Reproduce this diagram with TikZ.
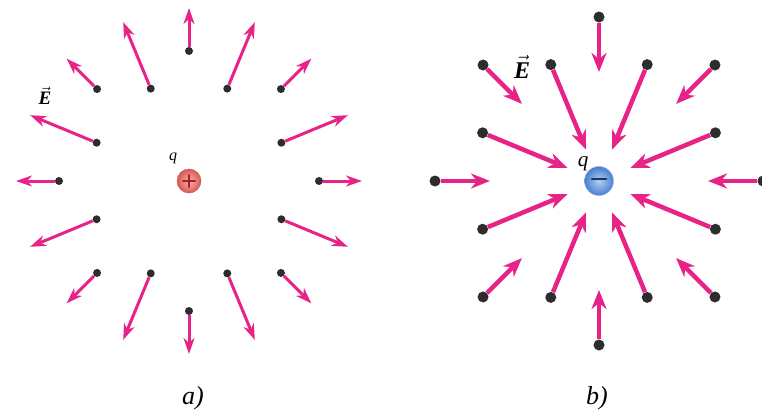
\RequirePackage{fix-cm}
\documentclass[tikz,border=0pt]{standalone}
\usepackage{fontspec}
\setmainfont{Liberation Serif}
\usepackage{amsmath}
\usetikzlibrary{arrows.meta,calc}
\definecolor{fieldpink}{RGB}{232,35,135}
\definecolor{dotgray}{RGB}{45,45,45}
\definecolor{posred}{RGB}{215,90,85}
\definecolor{poslight}{RGB}{246,178,168}
\definecolor{possign}{RGB}{165,30,40}
\definecolor{negblue}{RGB}{72,128,208}
\definecolor{neglight}{RGB}{175,208,242}
\definecolor{negsign}{RGB}{30,50,100}
\tikzset{
  dot/.style    ={circle,fill=dotgray,inner sep=0pt,minimum size=#1},
  fielda/.style ={fieldpink,line width=3pt,-{Stealth[length=16pt,width=11pt,inset=5pt]}},
  fieldb/.style ={fieldpink,line width=4.5pt,-{Stealth[length=19pt,width=15pt,inset=6pt]}},
  charge/.style ={circle,inner sep=0pt,shading=radial,minimum size=#1},
  sign/.style   ={line width=2pt,line cap=round},
  lbl/.style    ={inner sep=0pt,font=\fontsize{#1}{#1}\selectfont},
  caption/.style={inner sep=0pt,font=\fontsize{26}{30}\selectfont\itshape},
}
\begin{document}
\begin{tikzpicture}[x=1pt,y=-1pt]
  \useasboundingbox (0,0) rectangle (762,415);
  % a) positive charge, field points outward
  \begin{scope}[shift={(189,181)}]
    \node[charge=24pt,inner color=poslight,outer color=posred,draw=posred!90!black] (qa) at (0,0) {};
    \draw[sign,possign] ($(qa.center)+(-6,0)$) -- ($(qa.center)+(6,0)$);
    \draw[sign,possign] ($(qa.center)+(0,-6)$) -- ($(qa.center)+(0,6)$);
    \foreach \ang [count=\i] in {0,45,...,315} {
      \node[dot=8pt] (pa\i) at (\ang:130) {};
      \coordinate (pat\i) at (\ang:173);
      \draw[fielda] (pa\i) -- (pat\i);
    }
    \foreach \ang [count=\i] in {22.5,67.5,...,337.5} {
      \node[dot=8pt] (pb\i) at (\ang:100) {};
      \coordinate (pbt\i) at (\ang:172);
      \draw[fielda] (pb\i) -- (pbt\i);
    }
    \node[lbl=16] (qla) at (-16,-23) {\textit{q}};
    \node[lbl=19] (Ela) at (-144,-85) {$\vec{\textbf{\textit{E}}}$};
  \end{scope}
  \node[caption] (capa) at (193,398) {a)};
  % b) negative charge, field points inward
  \begin{scope}[shift={(599,181)}]
    \node[charge=29pt,inner color=neglight,outer color=negblue,draw=negblue!60!white] (qb) at (0,0) {};
    \draw[sign,line width=2.5pt,negsign] ($(qb.center)+(-7,-2)$) -- ($(qb.center)+(7,-2)$);
    \foreach \ang [count=\i] in {0,45,...,315} {
      \node[dot=11pt] (na\i) at (\ang:164) {};
      \coordinate (nat\i) at (\ang:109);
      \draw[fieldb] (na\i) -- (nat\i);
    }
    \foreach \ang [count=\i] in {22.5,67.5,...,337.5} {
      \node[dot=11pt] (nb\i) at (\ang:126) {};
      \coordinate (nbt\i) at (\ang:34);
      \draw[fieldb] (nb\i) -- (nbt\i);
    }
    \node[lbl=21] (qlb) at (-16,-17) {\textit{q}};
    \node[lbl=24] (Elb) at (-77,-114) {$\vec{\textbf{\textit{E}}}$};
  \end{scope}
  \node[caption] (capb) at (597,398) {b)};
\end{tikzpicture}
\end{document}
